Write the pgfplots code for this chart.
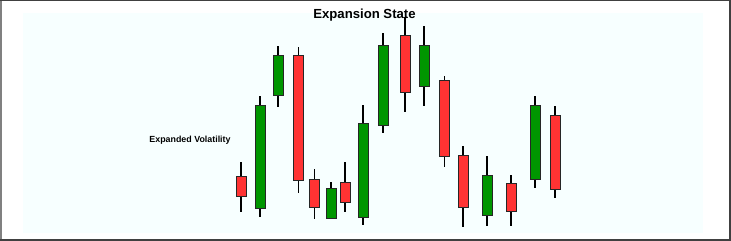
\documentclass[border=0pt]{standalone}
\usepackage{pgfplots}
\pgfplotsset{compat=1.18}
\usepackage{pgfplotstable}
\usepackage{fontspec}
\setmainfont{Liberation Sans}
\definecolor{bgc}{RGB}{247,255,255}
\definecolor{upc}{RGB}{0,150,0}
\definecolor{dnc}{RGB}{255,51,51}
\definecolor{frameL}{RGB}{128,128,128}
\definecolor{frameD}{RGB}{64,64,64}
% bullish candles: open < close
\pgfplotstableread{
x o h l c
260 33 145 24 135
278 146 195 134 185
331 23 59 23 52
363 24 136 16 117
383 116 208 108 195
424 155 215 135 195
487 26 85 15 65
535 62 145 53 135
}\greens
% bearish candles: open > close
\pgfplotstableread{
x o h l c
241 64 79 29 45
298.5 185 194 48 61
314.5 61 72 22 34
345 58 79 29 39
405 205 224 129 149
444.5 160 165 74 85
463 85 95 14 34
511 57 66 15 30
555 125 135 43 52
}\reds
\pgfplotsset{
  wick/.style={draw=none, mark=none, forget plot,
    error bars/.cd, y dir=both, y explicit, error mark=none,
    error bar style={draw=black, line width=1.1bp}},
  bodyline/.style={draw=none, mark=none, forget plot,
    error bars/.cd, y dir=both, y explicit, error mark=none,
    error bar style={draw=black!85, line width=11bp}},
  bodyfill/.style={draw=none, mark=none, forget plot,
    error bars/.cd, y dir=both, y explicit, error mark=none,
    error bar style={draw=#1, line width=9bp}},
}
\begin{document}
\begin{tikzpicture}
\path[use as bounding box] (0,0) rectangle (731bp,241bp);
\fill[white] (0,0) rectangle (731bp,241bp);
\fill[bgc] (23bp,8bp) rectangle (702.5bp,228bp);
\begin{axis}[at={(23bp,8bp)}, anchor=south west, scale only axis,
  width=679.5bp, height=220bp, xmin=23, xmax=702.5, ymin=8, ymax=228,
  hide axis, clip=false]
% wicks
\addplot[wick] table[x=x, y expr={(\thisrow{h}+\thisrow{l})/2}, y error expr={(\thisrow{h}-\thisrow{l})/2}] {\greens};
\addplot[wick] table[x=x, y expr={(\thisrow{h}+\thisrow{l})/2}, y error expr={(\thisrow{h}-\thisrow{l})/2}] {\reds};
% body outlines
\addplot[bodyline] table[x=x, y expr={(\thisrow{o}+\thisrow{c})/2}, y error expr={abs(\thisrow{c}-\thisrow{o})/2+1}] {\greens};
\addplot[bodyline] table[x=x, y expr={(\thisrow{o}+\thisrow{c})/2}, y error expr={abs(\thisrow{c}-\thisrow{o})/2+1}] {\reds};
% bodies
\addplot[bodyfill=upc] table[x=x, y expr={(\thisrow{o}+\thisrow{c})/2}, y error expr={abs(\thisrow{c}-\thisrow{o})/2}] {\greens};
\addplot[bodyfill=dnc] table[x=x, y expr={(\thisrow{o}+\thisrow{c})/2}, y error expr={abs(\thisrow{c}-\thisrow{o})/2}] {\reds};
\node[font=\bfseries\fontsize{8.9}{10}\selectfont, anchor=base] at (axis cs:190,98.7) {Expanded Volatility};
\end{axis}
\node[font=\bfseries\fontsize{13.2}{15}\selectfont, anchor=base] at (364.5bp,222.5bp) {Expansion State};
\draw[frameL, line width=2.2bp] (1.1bp,0) -- (1.1bp,241bp);
\draw[frameD, line width=1.4bp] (0,240.3bp) -- (731bp,240.3bp);
\draw[frameD, line width=1.4bp] (729.8bp,0) -- (729.8bp,241bp);
\draw[frameD, line width=1.4bp] (0,0.8bp) -- (731bp,0.8bp);
\end{tikzpicture}
\end{document}
